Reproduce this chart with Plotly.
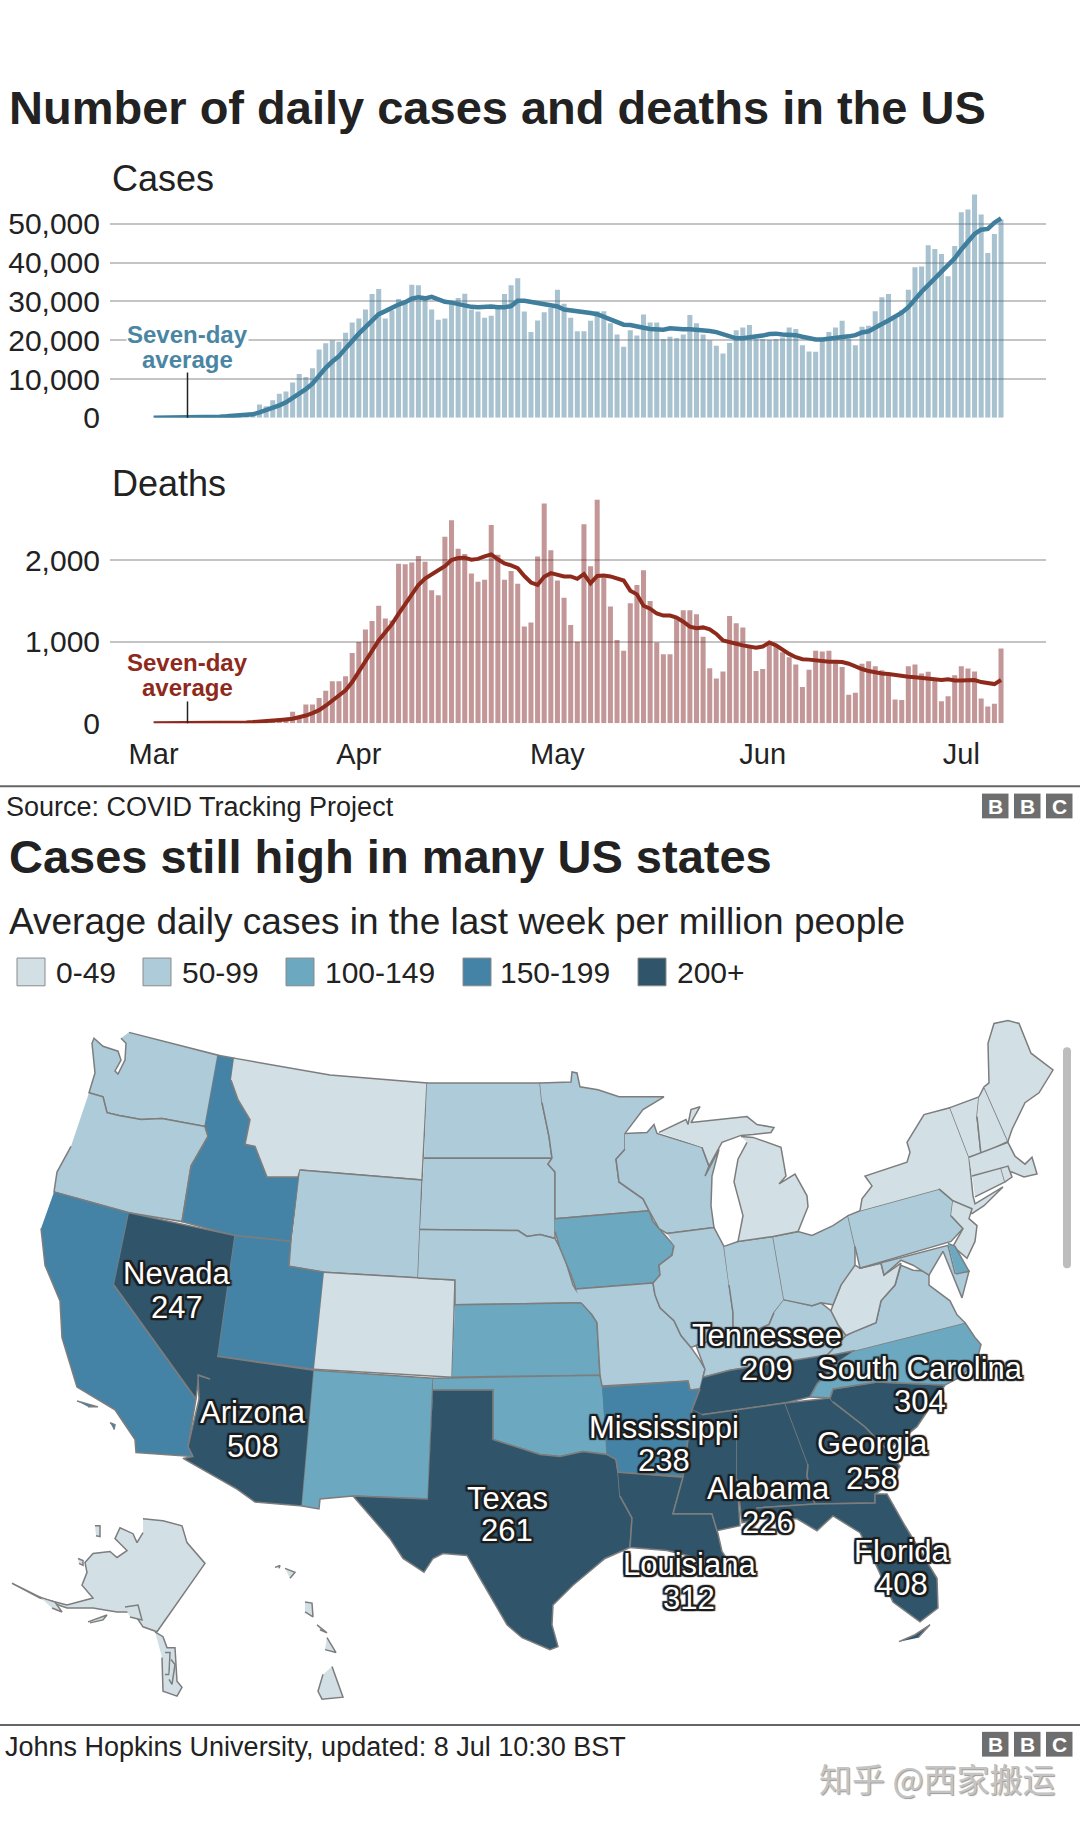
import pandas as pd
import plotly.graph_objects as go

W, H = 1080, 1839

dates = pd.date_range('2020-03-01', periods=129)

cases_daily = [10, 20, 30, 40, 50, 80, 110, 130, 190, 230, 290, 420, 520, 720, 660, 900,
               3400, 3000, 4500, 6200, 6800, 9100, 11300, 10500, 12800, 17600, 19200, 20000, 19600, 21900,
               24600, 25600, 27900, 31900, 33200, 25600, 27700, 30600, 29800, 34300, 34200, 30700, 27900, 25300, 25600,
               29400, 30900, 32000, 27900, 27400, 25800, 26300, 28300, 31900, 34200, 36000, 27400, 22100, 25100, 27200,
               28300, 33000, 29400, 25800, 22300, 22300, 25000, 27500, 27500, 24400, 21500, 18300, 22600, 21200, 26600,
               24600, 24600, 20300, 20900, 20600, 21500, 26500, 24400, 21500, 20000, 18600, 16600, 19300, 22600, 23300,
               23900, 20300, 20300, 20100, 20300, 20700, 23300, 22900, 18700, 17100, 17000, 20200, 22100, 23300, 25000,
               20400, 18700, 23500, 23700, 27500, 31100, 31900, 26400, 27700, 33000, 38800, 39000, 44500, 43500, 42200,
               36500, 44300, 53000, 53700, 57600, 52400, 42500, 47400, 51100]

cases_avg = [10, 15, 20, 30, 40, 50, 60, 80, 130, 200, 280, 370, 470, 600, 750, 900,
             1400, 1900, 2400, 3200, 4000, 5100, 6300, 7400, 8800, 10900, 12900, 14500, 15900, 17900,
             20000, 21700, 23400, 25100, 26700, 27500, 28500, 29200, 29800, 30700, 31100, 30800, 31200, 30600, 29900,
             29700, 29300, 28900, 28600, 28500, 28600, 28700, 28500, 28500, 28800, 30200, 30200, 29900, 29600, 29300,
             29000, 28700, 27900, 27700, 27600, 27300, 27000, 26700, 26000, 25300, 24500, 24000, 23900, 23400, 23200,
             22900, 22800, 22700, 23100, 22900, 22800, 22800, 22700, 22500, 22400, 22100, 21500, 21000, 20500, 20500,
             20700, 20900, 21200, 21600, 21700, 21500, 21400, 21300, 20900, 20400, 20200, 20200, 20400, 20400, 20700,
             21000, 21300, 22000, 22300, 23100, 24200, 25100, 26000, 27100, 28500, 30700, 32500, 34200, 35900, 37900,
             39400, 41100, 43400, 45600, 47400, 48500, 48700, 50300, 51400]

deaths_daily = [0, 0, 1, 1, 2, 2, 2, 3, 4, 4, 4, 5, 6, 8, 10, 12,
                25, 30, 40, 60, 70, 140, 80, 230, 230, 310, 400, 515, 515, 575,
                860, 995, 1150, 1255, 1440, 1285, 1260, 1955, 1950, 1970, 2050, 1980, 1630, 1570, 2285,
                2490, 2140, 2075, 1835, 1735, 1760, 2430, 2065, 1760, 1865, 1710, 1185, 1235, 2045, 2695,
                2120, 1750, 1540, 1205, 1000, 2440, 1925, 2740, 1785, 1430, 1020, 890, 1470, 1695, 1875,
                1500, 990, 845, 845, 1300, 1385, 1385, 1335, 1060, 675, 550, 635, 1315, 1225, 1175,
                935, 640, 665, 975, 940, 870, 810, 720, 445, 655, 890, 880, 890, 770, 690,
                350, 375, 730, 760, 700, 650, 615, 290, 285, 700, 720, 610, 630, 530, 270,
                330, 590, 700, 670, 635, 305, 205, 240, 915]

deaths_avg = [0, 0, 0, 1, 1, 1, 2, 2, 3, 3, 4, 5, 6, 8, 10, 14,
              18, 24, 30, 40, 45, 55, 70, 95, 125, 160, 215, 275, 335, 405,
              505, 630, 760, 890, 1015, 1115, 1215, 1340, 1460, 1575, 1695, 1775, 1830, 1875, 1925,
              2000, 2025, 2030, 2005, 2015, 2045, 2070, 2010, 1960, 1935, 1900, 1805, 1725, 1695, 1795,
              1840, 1825, 1800, 1800, 1770, 1830, 1715, 1805, 1810, 1800, 1770, 1750, 1625, 1580, 1440,
              1405, 1345, 1320, 1320, 1295, 1245, 1185, 1165, 1175, 1150, 1095, 1015, 990, 975, 955,
              935, 925, 940, 990, 955, 900, 850, 810, 785, 780, 770, 760, 755, 755, 750,
              730, 695, 665, 640, 620, 610, 605, 590, 580, 570, 565, 555, 550, 530, 530,
              540, 525, 525, 525, 530, 505, 490, 480, 530]

case_ticks = [0, 10000, 20000, 30000, 40000, 50000]
death_ticks = [0, 1000, 2000]
month_ticks = ['2020-03-01', '2020-04-01', '2020-05-01', '2020-06-01', '2020-07-01']
month_labels = ['Mar', 'Apr', 'May', 'Jun', 'Jul']

bin_labels = ['0-49', '50-99', '100-149', '150-199', '200+']
bin_colors = ['#d2e0e6', '#aecbd9', '#6ca8c0', '#4583a6', '#30556b']
bin_states = [
    ['MT', 'CO', 'MI', 'WV', 'NY', 'VT', 'NH', 'ME', 'MA', 'CT', 'RI', 'NJ', 'AK', 'HI'],
    ['WA', 'OR', 'WY', 'ND', 'SD', 'NE', 'MN', 'WI', 'IL', 'IN', 'OH', 'KY', 'MO', 'PA', 'VA', 'MD'],
    ['NM', 'KS', 'OK', 'IA', 'NC', 'DE'],
    ['CA', 'ID', 'UT', 'AR'],
    ['NV', 'AZ', 'TX', 'LA', 'MS', 'AL', 'TN', 'GA', 'SC', 'FL'],
]

labelled_states = ['Nevada', 'Arizona', 'Texas', 'Mississippi', 'Alabama', 'Georgia', 'Florida', 'Louisiana',
                   'Tennessee', 'South Carolina']
labelled_values = [247, 508, 261, 238, 226, 258, 408, 312, 209, 304]

# plotly's state topojson comes from a CDN and there is no network here, so the outlines are
# traced off the picture, in map units (same as page pixels). First two letters = state code.
state_outlines = {
    'WA': [(129, 1042), (218, 1065), (205, 1137), (162, 1129), (141, 1130), (119, 1126), (107, 1123), (103, 1107),
           (89, 1103), (95, 1083), (92, 1053), (94, 1048), (103, 1056), (118, 1061), (121, 1070), (115, 1081),
           (118, 1084), (125, 1070), (126, 1053), (121, 1048)],
    'OR': [(89, 1103), (103, 1107), (107, 1123), (119, 1126), (141, 1130), (162, 1129), (205, 1137), (208, 1147),
           (191, 1177), (182, 1233), (129, 1224), (54, 1203), (57, 1183), (71, 1157)],
    'ID': [(218, 1065), (234, 1068), (231, 1090), (238, 1110), (250, 1130), (245, 1155), (255, 1157), (267, 1188),
           (291, 1188), (298, 1188), (300, 1181), (291, 1253), (234, 1247), (182, 1233), (191, 1177), (208, 1147),
           (205, 1137)],
    'MT': [(234, 1068), (330, 1085), (427, 1093), (422, 1191), (300, 1181), (298, 1188), (267, 1188), (255, 1157),
           (245, 1155), (250, 1130), (238, 1110), (231, 1090)],
    'WY': [(300, 1181), (422, 1191), (418, 1290), (324, 1284), (289, 1278)],
    'CA': [(54, 1203), (129, 1224), (114, 1297), (196, 1412), (188, 1460), (193, 1470), (136, 1466), (135, 1453),
           (115, 1423), (77, 1400), (62, 1350), (60, 1313), (45, 1277), (41, 1240)],
    'CA_channel_a': [(77, 1414), (88, 1417), (98, 1420), (88, 1420)],
    'CA_channel_b': [(110, 1436), (115, 1438), (114, 1443)],
    'NV': [(129, 1224), (235, 1247), (218, 1369), (213, 1393), (199, 1388), (196, 1412), (114, 1297)],
    'UT': [(235, 1247), (291, 1253), (289, 1278), (324, 1284), (314, 1382), (218, 1369)],
    'AZ': [(217, 1369), (314, 1383), (302, 1520), (255, 1516), (237, 1503), (183, 1472), (193, 1470), (188, 1460),
           (199, 1412), (198, 1388), (210, 1392)],
    'CO': [(324, 1284), (455, 1292), (452, 1390), (314, 1382)],
    'NM': [(314, 1383), (433, 1391), (428, 1513), (353, 1510), (320, 1513), (319, 1523), (302, 1520)],
    'ND': [(427, 1093), (540, 1093), (542, 1113), (549, 1147), (552, 1169), (424, 1169)],
    'SD': [(424, 1169), (552, 1169), (548, 1175), (555, 1183), (555, 1230), (555, 1250), (540, 1246), (527, 1248),
           (518, 1242), (420, 1241)],
    'NE': [(420, 1241), (518, 1242), (527, 1248), (540, 1246), (555, 1250), (564, 1267), (573, 1297), (576, 1302),
           (586, 1315), (455, 1317), (455, 1292), (418, 1290)],
    'KS': [(455, 1317), (586, 1315), (592, 1327), (597, 1335), (600, 1388), (452, 1390)],
    'OK': [(433, 1391), (600, 1388), (603, 1400), (607, 1468), (583, 1465), (560, 1470), (540, 1468), (522, 1462),
           (493, 1453), (493, 1403), (433, 1403)],
    'TX': [(433, 1403), (493, 1403), (493, 1453), (522, 1462), (540, 1468), (560, 1470), (583, 1465), (607, 1468),
           (616, 1473), (618, 1486), (620, 1510), (632, 1532), (630, 1562), (605, 1573), (573, 1600), (553, 1620),
           (552, 1640), (558, 1662), (550, 1665), (522, 1653), (507, 1640), (480, 1593), (467, 1570), (443, 1568),
           (433, 1573), (424, 1587), (403, 1573), (390, 1553), (353, 1510), (428, 1513)],
    'MN': [(540, 1093), (571, 1092), (572, 1082), (577, 1083), (580, 1097), (598, 1100), (619, 1107), (664, 1107),
           (643, 1120), (625, 1144), (625, 1160), (616, 1170), (619, 1193), (643, 1210), (649, 1222), (555, 1230),
           (555, 1183), (548, 1175), (552, 1169), (549, 1147), (542, 1113)],
    'IA': [(555, 1230), (649, 1222), (653, 1233), (662, 1243), (674, 1257), (672, 1267), (659, 1277), (660, 1287),
           (653, 1295), (576, 1301), (571, 1287), (560, 1260), (555, 1243)],
    'MO': [(576, 1301), (653, 1295), (655, 1307), (660, 1320), (674, 1333), (681, 1348), (691, 1360), (700, 1373),
           (705, 1382), (703, 1390), (700, 1402), (690, 1403), (688, 1394), (602, 1399), (600, 1388), (597, 1335),
           (592, 1327), (581, 1315)],
    'AR': [(602, 1400), (688, 1394), (690, 1403), (700, 1402), (692, 1423), (683, 1490), (618, 1486), (616, 1473),
           (607, 1468)],
    'LA': [(618, 1486), (683, 1491), (673, 1528), (712, 1528), (718, 1548), (722, 1566), (730, 1578), (695, 1572),
           (667, 1565), (630, 1562), (632, 1532), (620, 1510)],
    'WI': [(625, 1144), (647, 1143), (654, 1135), (657, 1144), (702, 1158), (709, 1177), (705, 1187), (719, 1160),
           (712, 1187), (711, 1217), (714, 1239), (667, 1245), (659, 1240), (652, 1228), (649, 1222), (643, 1210),
           (619, 1193), (616, 1170), (625, 1160)],
    'IL': [(667, 1245), (714, 1239), (724, 1258), (729, 1297), (733, 1325), (733, 1345), (720, 1350), (705, 1356),
           (696, 1358), (691, 1360), (681, 1348), (674, 1333), (660, 1320), (655, 1307), (653, 1295), (660, 1287),
           (659, 1277), (672, 1267), (674, 1257)],
    'IN': [(724, 1258), (738, 1253), (773, 1248), (784, 1312), (774, 1325), (769, 1337), (746, 1347), (733, 1345),
           (733, 1325), (729, 1297)],
    'KY': [(784, 1312), (791, 1313), (812, 1318), (821, 1315), (831, 1323), (838, 1337), (846, 1348), (826, 1369),
           (730, 1383), (703, 1390), (705, 1382), (696, 1358), (720, 1350), (733, 1345), (746, 1347), (769, 1337),
           (774, 1325)],
    'TN': [(703, 1390), (730, 1383), (855, 1363), (835, 1377), (817, 1397), (810, 1410), (785, 1416), (702, 1428),
           (692, 1423), (700, 1402)],
    'MS': [(702, 1428), (737, 1423), (737, 1493), (740, 1540), (717, 1545), (712, 1528), (673, 1528), (683, 1491),
           (692, 1423)],
    'AL': [(737, 1423), (785, 1416), (808, 1478), (807, 1490), (815, 1518), (757, 1522), (758, 1533), (742, 1537),
           (740, 1520), (737, 1493)],
    'GA': [(785, 1416), (830, 1411), (833, 1415), (865, 1440), (887, 1463), (900, 1480), (887, 1500), (875, 1508),
           (875, 1517), (815, 1518), (807, 1490), (808, 1478)],
    'FL': [(757, 1522), (815, 1518), (875, 1517), (875, 1508), (887, 1508), (905, 1540), (937, 1593), (938, 1623),
           (920, 1637), (893, 1617), (873, 1573), (860, 1547), (833, 1530), (817, 1545), (797, 1533), (758, 1533)],
    'FL_keys': [(899, 1657), (915, 1650), (930, 1640), (918, 1653)],
    'SC': [(830, 1411), (833, 1402), (877, 1395), (945, 1398), (917, 1440), (905, 1450), (887, 1463), (865, 1440),
           (833, 1415)],
    'NC': [(855, 1363), (965, 1335), (975, 1350), (981, 1357), (977, 1373), (960, 1390), (945, 1398), (877, 1395),
           (833, 1402), (830, 1411), (810, 1410), (817, 1397), (835, 1377)],
    'VA': [(965, 1335), (957, 1327), (950, 1313), (929, 1297), (929, 1283), (913, 1282), (901, 1277), (895, 1297),
           (881, 1313), (876, 1335), (852, 1345), (846, 1348), (826, 1369), (855, 1363)],
    'WV': [(855, 1277), (860, 1280), (881, 1275), (884, 1287), (901, 1275), (895, 1297), (881, 1313), (876, 1335),
           (852, 1345), (846, 1348), (838, 1337), (831, 1323), (833, 1317), (841, 1297)],
    'OH': [(773, 1248), (798, 1243), (812, 1247), (833, 1237), (848, 1227), (855, 1258), (855, 1277), (841, 1297),
           (833, 1317), (821, 1315), (812, 1318), (791, 1313), (784, 1312)],
    'PA': [(848, 1227), (860, 1222), (939, 1200), (953, 1212), (951, 1227), (963, 1240), (951, 1253), (860, 1280),
           (855, 1258)],
    'NY': [(860, 1222), (862, 1210), (872, 1197), (865, 1187), (907, 1173), (910, 1163), (907, 1153), (924, 1125),
           (950, 1118), (969, 1168), (973, 1207), (975, 1215), (1003, 1198), (984, 1217), (972, 1225), (953, 1212),
           (939, 1200)],
    'NJ': [(953, 1212), (972, 1220), (969, 1230), (977, 1237), (975, 1253), (967, 1270), (953, 1258), (963, 1240),
           (951, 1227)],
    'MD': [(860, 1280), (948, 1257), (955, 1285), (969, 1283), (962, 1310), (952, 1285), (943, 1263), (929, 1287),
           (913, 1277), (901, 1272), (884, 1287), (881, 1275)],
    'DE': [(948, 1255), (955, 1258), (969, 1283), (956, 1286)],
    'VT': [(950, 1118), (979, 1107), (977, 1127), (981, 1165), (969, 1168)],
    'NH': [(979, 1107), (984, 1097), (1008, 1152), (981, 1165), (977, 1127)],
    'ME': [(984, 1097), (989, 1093), (988, 1053), (994, 1033), (1008, 1030), (1019, 1033), (1031, 1063), (1053, 1080),
           (1039, 1103), (1025, 1113), (1012, 1140), (1008, 1152)],
    'MA': [(969, 1168), (1008, 1153), (1015, 1167), (1025, 1175), (1032, 1168), (1037, 1185), (1024, 1188), (1012, 1183),
           (972, 1187)],
    'CT': [(972, 1187), (1001, 1179), (1005, 1193), (975, 1208)],
    'RI': [(1001, 1179), (1008, 1177), (1012, 1188), (1005, 1193)],
    'MI_upper': [(659, 1143), (686, 1130), (688, 1135), (691, 1120), (700, 1117), (691, 1133), (747, 1127), (757, 1135),
                 (774, 1138), (771, 1143), (753, 1145), (741, 1146), (722, 1153), (709, 1177), (702, 1158)],
    'MI_lower': [(741, 1147), (753, 1148), (781, 1158), (786, 1187), (779, 1195), (795, 1185), (807, 1207), (808, 1218),
                 (798, 1243), (773, 1248), (738, 1253), (743, 1227), (734, 1193), (738, 1170), (747, 1153)],
    'AK': [(143, 1533), (163, 1535), (182, 1540), (187, 1557), (205, 1578), (157, 1647), (143, 1642), (133, 1627),
           (117, 1627), (93, 1623), (67, 1623), (50, 1617), (12, 1598), (40, 1613), (67, 1620), (93, 1613), (82, 1600),
           (87, 1587), (85, 1577), (93, 1568), (110, 1566), (117, 1572), (127, 1565), (115, 1553), (120, 1542),
           (133, 1548), (137, 1557), (143, 1547)],
    'AK_panhandle': [(155, 1647), (163, 1652), (167, 1663), (175, 1663), (177, 1697), (182, 1703), (177, 1712),
                     (163, 1707), (162, 1673)],
    'AK_panhandle_a': [(165, 1668), (170, 1668), (169, 1690), (165, 1690)],
    'AK_panhandle_b': [(171, 1675), (175, 1680), (172, 1700), (169, 1695)],
    'AK_aleut': [(40, 1612), (55, 1617), (62, 1627), (52, 1623)],
    'AK_bristol': [(125, 1622), (138, 1620), (142, 1635), (130, 1632)],
    'AK_kodiak': [(88, 1637), (107, 1630), (103, 1635), (90, 1638)],
    'AK_lawrence': [(95, 1540), (100, 1540), (100, 1551), (96, 1550)],
    'AK_nunivak': [(78, 1573), (83, 1575), (83, 1580), (79, 1578)],
    'HI_big': [(332, 1682), (343, 1713), (322, 1715), (318, 1707), (323, 1690)],
    'HI_maui': [(327, 1653), (336, 1668), (325, 1665)],
    'HI_molokai': [(317, 1640), (327, 1648), (320, 1645)],
    'HI_oahu': [(305, 1617), (312, 1618), (313, 1632), (305, 1627)],
    'HI_kauai': [(285, 1583), (295, 1587), (290, 1593)],
    'HI_niihau': [(275, 1582), (280, 1580), (279, 1583)],
}

FONT = 'Liberation Sans'
TEXT = '#222222'
OUTLINE = ', '.join(f'{dx}px {dy}px 1px #1c1c1c' for dx, dy in
                    [(-2, 0), (2, 0), (0, -2), (0, 2), (-2, -2), (2, -2), (-2, 2), (2, 2)])


def px(x):
    return x / W


def py(y):
    return 1 - y / H


def label(text, x, y, size, color=TEXT, bold=False, anchor='left', family=FONT, shadow='none', **kw):
    fig.add_annotation(xref='paper', yref='paper', x=px(x), y=py(y), text=f'<b>{text}</b>' if bold else text,
                       showarrow=False, xanchor=anchor, yanchor='middle', borderpad=0,
                       font=dict(family=family, size=size, color=color, shadow=shadow), **kw)


fig = go.Figure()

# Cases
fig.add_trace(go.Bar(x=dates, y=cases_daily, marker=dict(color='rgba(62,120,150,0.45)', line_width=0),
                     xaxis='x', yaxis='y'))
fig.add_trace(go.Scatter(x=dates, y=cases_avg, mode='lines', line=dict(color='#3f7e9c', width=4.5),
                         xaxis='x', yaxis='y'))
# Deaths
fig.add_trace(go.Bar(x=dates, y=deaths_daily, marker=dict(color='rgba(122,25,25,0.45)', line_width=0),
                     xaxis='x2', yaxis='y2'))
fig.add_trace(go.Scatter(x=dates, y=deaths_avg, mode='lines', line=dict(color='#8e2a1c', width=4),
                         xaxis='x2', yaxis='y2'))

# Map
state_color = {code: color for codes, color in zip(bin_states, bin_colors) for code in codes}
for name, outline in state_outlines.items():
    xs, ys = zip(*outline)
    fig.add_trace(go.Scatter(x=xs, y=ys, mode='lines', fill='toself', fillcolor=state_color[name[:2]], name=name,
                             line=dict(color='#7d7d7d', width=1.5), hoverinfo='name', xaxis='x3', yaxis='y3'))

x_range = ['2020-02-23 10:00', '2020-07-13 19:00']
fig.update_layout(
    width=W, height=H, margin=dict(l=0, r=0, t=0, b=0), showlegend=False, bargap=0.24,
    paper_bgcolor='white', plot_bgcolor='rgba(0,0,0,0)', font=dict(family=FONT, color=TEXT),
    xaxis=dict(domain=[px(110), px(1046)], range=x_range, type='date', showgrid=False, zeroline=False,
               showticklabels=False, anchor='y'),
    yaxis=dict(domain=[py(421.7), py(186.8)], range=[0, 60000], tickvals=case_ticks, tickformat=',',
               gridcolor='#c4c4c4', gridwidth=2, zeroline=False, tickfont=dict(size=30, color=TEXT),
               ticks='outside', ticklen=3, tickcolor='rgba(0,0,0,0)', anchor='x'),
    xaxis2=dict(domain=[px(110), px(1046)], range=x_range, type='date', showgrid=False, zeroline=False,
                tickvals=month_ticks, ticktext=month_labels, tickfont=dict(size=29, color=TEXT),
                ticks='outside', ticklen=5, tickcolor='rgba(0,0,0,0)', anchor='y2'),
    yaxis2=dict(domain=[py(730), py(483)], range=[0, 3000], tickvals=death_ticks, tickformat=',',
                gridcolor='#c4c4c4', gridwidth=2, zeroline=False, tickfont=dict(size=30, color=TEXT),
                ticks='outside', ticklen=3, tickcolor='rgba(0,0,0,0)', anchor='x2'),
    xaxis3=dict(domain=[0, 1], range=[0, W], visible=False, anchor='y3'),
    yaxis3=dict(domain=[0, 1], range=[H, 0], visible=False, anchor='x3'),
)

# titles
label('Number of daily cases and deaths in the US', 8, 109, 47, bold=True)
label('Cases', 111, 180, 36)
label('Deaths', 111, 488, 36)
label('Cases still high in many US states', 8, 864, 47, bold=True)
label('Average daily cases in the last week per million people', 8, 930, 37)
label('Source: COVID Tracking Project', 5, 815, 27)
label('Johns Hopkins University, updated: 8 Jul 10:30 BST', 4, 1763, 27)

# seven-day callouts
label('Seven-day', 187.5, 338, 24, color='#4a86a4', bold=True, anchor='center', bgcolor='white')
label('average', 187.5, 363, 24, color='#4a86a4', bold=True, anchor='center')
label('Seven-day', 187.5, 669, 24, color='#8e2a1c', bold=True, anchor='center')
label('average', 187.5, 694, 24, color='#8e2a1c', bold=True, anchor='center')
for y0, y1 in [(376, 421.7), (708, 730)]:
    fig.add_shape(type='line', xref='paper', yref='paper', x0=px(187.5), x1=px(187.5), y0=py(y0), y1=py(y1),
                  line=dict(color='#222222', width=1.5))

# rules and BBC blocks
for y in [793.5, 1741]:
    fig.add_shape(type='line', xref='paper', yref='paper', x0=0, x1=1, y0=py(y), y1=py(y),
                  line=dict(color='#666666', width=2))
for y0 in [801, 1748]:
    for x0, letter in zip([982, 1014, 1046], 'BBC'):
        fig.add_shape(type='rect', xref='paper', yref='paper', x0=px(x0), x1=px(x0 + 26.5), y0=py(y0), y1=py(y0 + 25),
                      fillcolor='#6e6e6e', line_width=0)
        label(letter, x0 + 13.2, y0 + 13, 21, color='white', bold=True, anchor='center')

# legend
for x0, text_x, text, color in zip([17, 143, 286, 463, 638], [55, 181, 324, 499, 676], bin_labels, bin_colors):
    fig.add_shape(type='rect', xref='paper', yref='paper', x0=px(x0), x1=px(x0 + 28), y0=py(967), y1=py(995),
                  fillcolor=color, line=dict(color='#8a8a8a', width=1))
    label(text, text_x, 982, 30)

# state callouts: name and value on separate lines, closer together than a <br> would give
name_pos = [(177, 1285), (253, 1426), (507, 1512), (664, 1441), (768, 1502), (872, 1457), (902, 1566), (689, 1579),
            (767, 1348), (920, 1381)]
value_pos = [(177, 1320), (253, 1460), (507, 1545), (664, 1474), (768, 1537), (872, 1492), (902, 1599), (689, 1613),
             (767, 1382), (920, 1415)]
for state, value, (nx, ny), (vx, vy) in zip(labelled_states, labelled_values, name_pos, value_pos):
    label(state, nx, ny, 31, color='white', anchor='center', shadow=OUTLINE)
    label(str(value), vx, vy, 31, color='white', anchor='center', shadow=OUTLINE)

# scrollbar caught in the screenshot
x0, x1, y0, y1, r = px(1063), px(1071), py(1057), py(1280), 4 / H
fig.add_shape(type='path', xref='paper', yref='paper', fillcolor='#bdbdbd', line_width=0,
              path=f'M {x0},{y0 - r} Q {x0},{y0} {(x0 + x1) / 2},{y0} Q {x1},{y0} {x1},{y0 - r} '
                   f'L {x1},{y1 + r} Q {x1},{y1} {(x0 + x1) / 2},{y1} Q {x0},{y1} {x0},{y1 + r} Z')

# watermark
label('知乎 @西家搬运', 937, 1795, 33, color='#c4c4c4', anchor='center', family='Noto Sans CJK SC',
      shadow='1px 1px 1px #9a9a9a')

fig.write_html('out.html', config={'displayModeBar': False}, post_script="document.body.style.margin='0';")
